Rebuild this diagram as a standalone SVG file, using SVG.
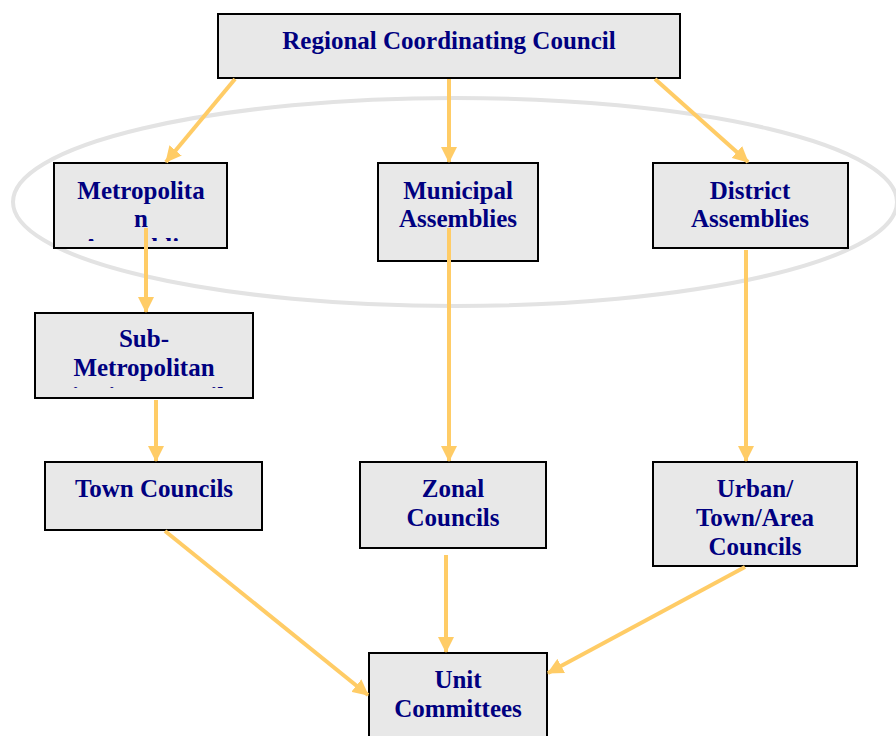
<svg xmlns="http://www.w3.org/2000/svg" width="896" height="736" viewBox="0 0 896 736">
<style>
.box{fill:#e8e8e8;stroke:#000;stroke-width:2}
.t{font-family:"Liberation Serif","Times New Roman",serif;font-weight:bold;font-size:25px;fill:#000080;text-anchor:middle}
.c{stroke:#ffcc66;stroke-width:4;fill:none;marker-end:url(#ah)}
</style>
<defs>
<marker id="ah" markerUnits="userSpaceOnUse" markerWidth="16" markerHeight="16" viewBox="0 0 16 16" refX="15" refY="8" orient="auto">
<path d="M0,0 L16,8 L0,16 z" fill="#ffcc66"/>
</marker>
<clipPath id="cm"><rect x="54" y="163" width="173" height="78"/></clipPath>
<clipPath id="cs"><rect x="35" y="313" width="218" height="75"/></clipPath>
</defs>
<rect width="896" height="736" fill="#fff"/>
<ellipse cx="455" cy="202" rx="442" ry="104" fill="none" stroke="#e3e3e3" stroke-width="4"/>
<g id="n-regional"><rect class="box" x="218" y="14" width="462" height="64"/><text class="t" x="449" y="49">Regional Coordinating Council</text></g>
<g id="n-metro"><rect class="box" x="54" y="163" width="173" height="85"/><g clip-path="url(#cm)"><text class="t" x="141" y="199">Metropolita</text><text class="t" x="141" y="227">n</text><text class="t" x="141" y="256">Assemblies</text></g></g>
<g id="n-municipal"><rect class="box" x="378" y="163" width="160" height="98"/><text class="t" x="458" y="199">Municipal</text><text class="t" x="458" y="227">Assemblies</text></g>
<g id="n-district"><rect class="box" x="653" y="163" width="195" height="85"/><text class="t" x="750" y="199">District</text><text class="t" x="750" y="227">Assemblies</text></g>
<g id="n-submetro"><rect class="box" x="35" y="313" width="218" height="85"/><g clip-path="url(#cs)"><text class="t" x="144" y="347">Sub-</text><text class="t" x="144" y="376">Metropolitan</text><text class="t" x="144" y="405">District Councils</text></g></g>
<g id="n-town"><rect class="box" x="45" y="462" width="217" height="68"/><text class="t" x="154" y="497">Town Councils</text></g>
<g id="n-zonal"><rect class="box" x="360" y="462" width="186" height="86"/><text class="t" x="453" y="497">Zonal</text><text class="t" x="453" y="526">Councils</text></g>
<g id="n-urban"><rect class="box" x="653" y="462" width="204" height="104"/><text class="t" x="755" y="497">Urban/</text><text class="t" x="755" y="526">Town/Area</text><text class="t" x="755" y="555">Councils</text></g>
<g id="n-unit"><rect class="box" x="369" y="653" width="178" height="90"/><text class="t" x="458" y="688">Unit</text><text class="t" x="458" y="717">Committees</text></g>
<g id="connectors">
<line class="c" x1="235" y1="79" x2="166" y2="162"/>
<line class="c" x1="449" y1="79" x2="449" y2="162"/>
<line class="c" x1="655" y1="79" x2="748" y2="162"/>
<line class="c" x1="146" y1="228" x2="146" y2="312"/>
<line class="c" x1="449" y1="228" x2="449" y2="461"/>
<line class="c" x1="746" y1="250" x2="746" y2="461"/>
<line class="c" x1="156" y1="400" x2="156" y2="461"/>
<line class="c" x1="165" y1="531" x2="368" y2="695"/>
<line class="c" x1="446" y1="555" x2="446" y2="652"/>
<line class="c" x1="745" y1="567" x2="548" y2="673"/>
</g>
</svg>
